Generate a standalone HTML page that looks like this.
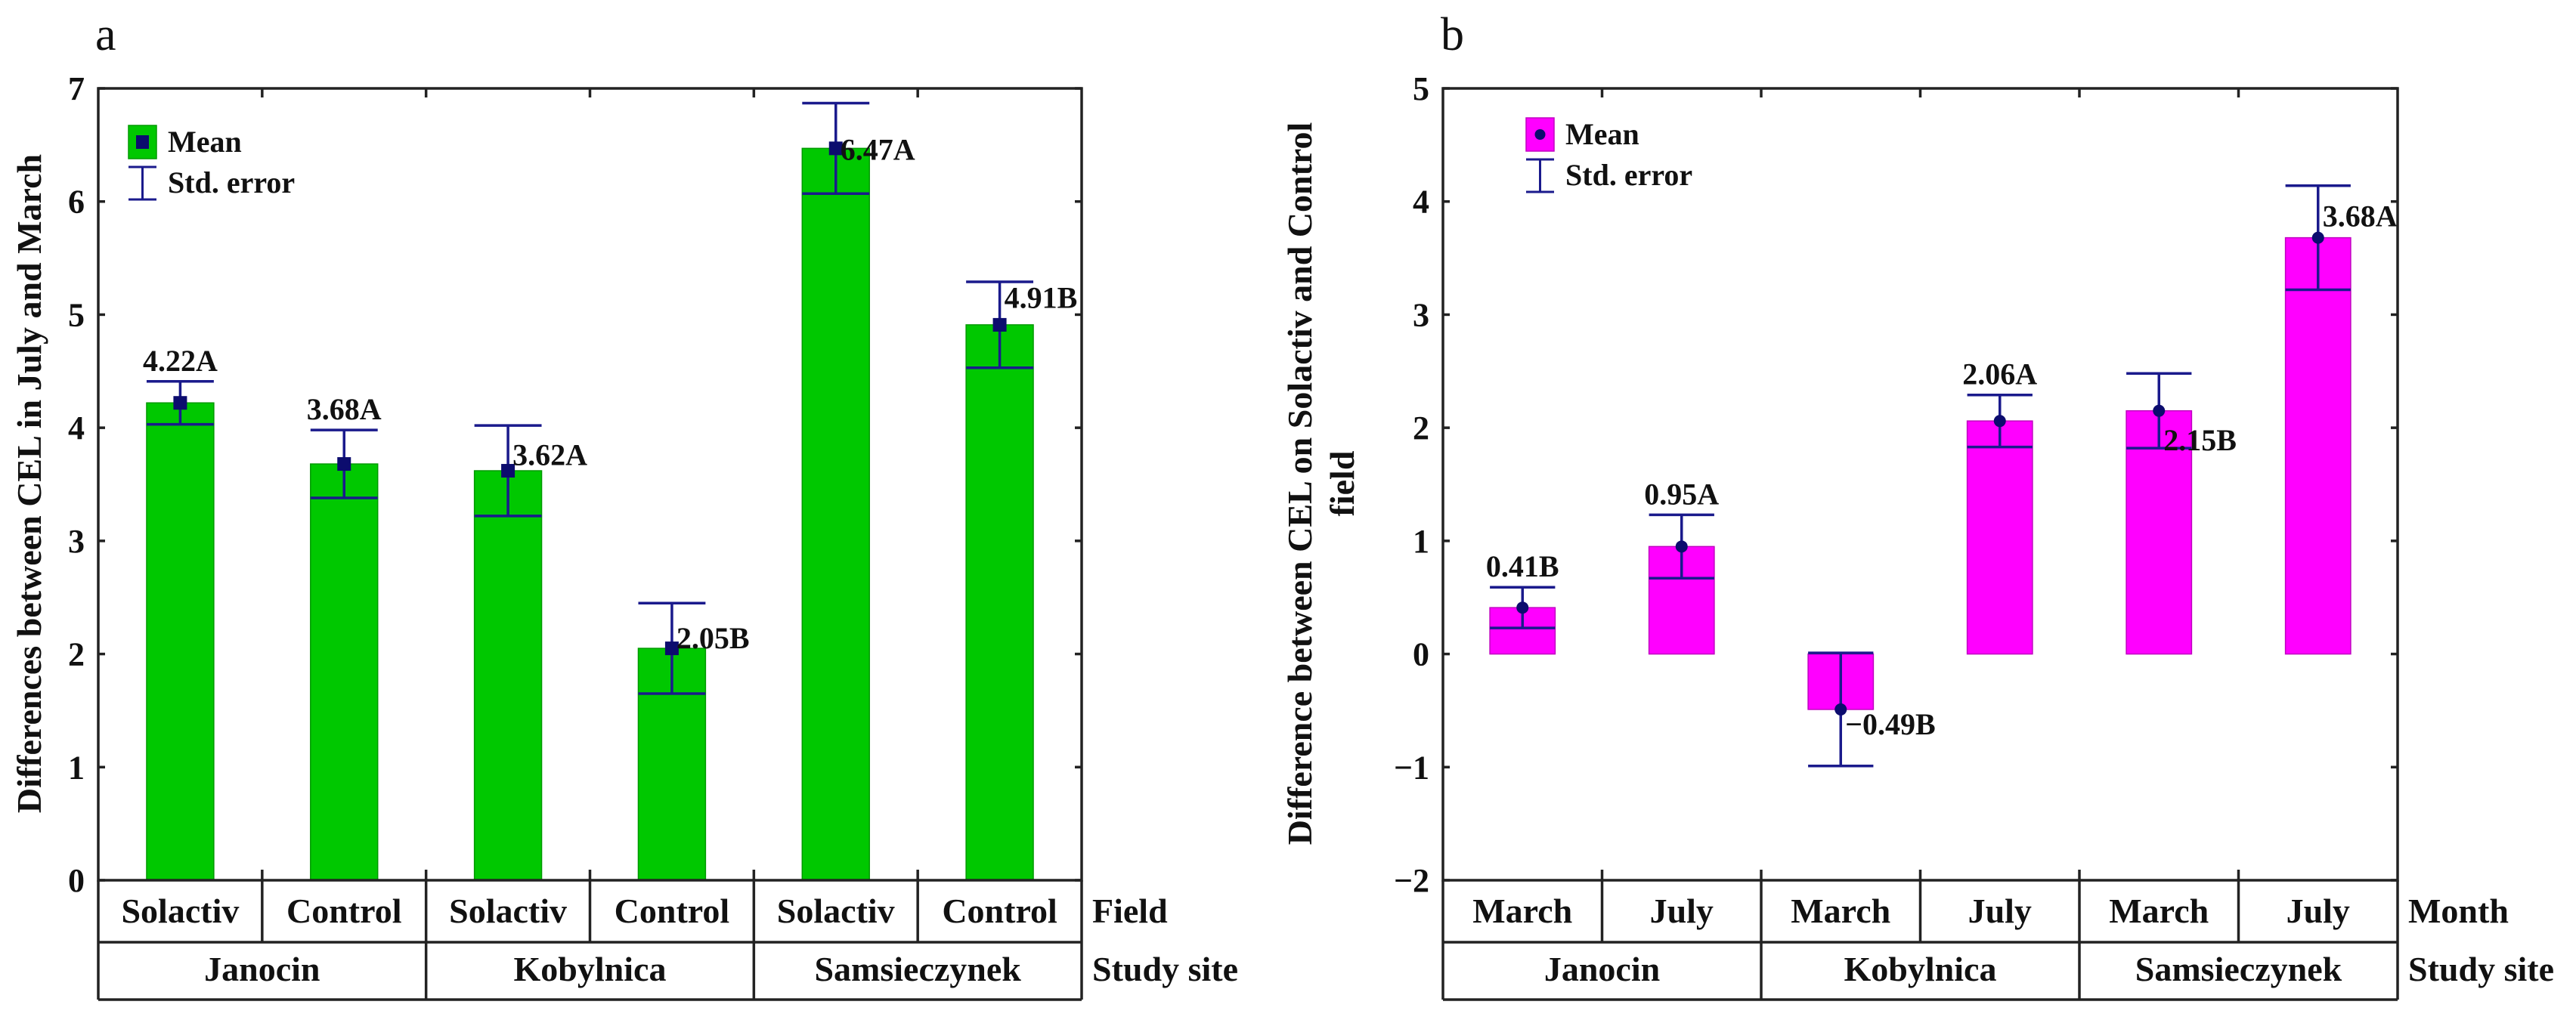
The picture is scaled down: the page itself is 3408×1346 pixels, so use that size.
<!DOCTYPE html>
<html><head><meta charset="utf-8"><style>
html,body{margin:0;padding:0;background:#fff;}
svg{display:block;font-family:"Liberation Serif",serif;}
</style></head><body>
<svg id="fig" width="3408" height="1346" viewBox="0 0 3408 1346" xmlns="http://www.w3.org/2000/svg"></svg>
<script>
// Chart a data
const catsA = ["Solactiv","Control","Solactiv","Control","Solactiv","Control"];
const sitesA = ["Janocin","Kobylnica","Samsieczynek"];
const meanA = [4.22,3.68,3.62,2.05,6.47,4.91];
const seA = [0.19,0.30,0.40,0.40,0.40,0.38];
const labelA = ["4.22A","3.68A","3.62A","2.05B","6.47A","4.91B"];
const ticksA = [0,1,2,3,4,5,6,7];
// Chart b data
const catsB = ["March","July","March","July","March","July"];
const sitesB = ["Janocin","Kobylnica","Samsieczynek"];
const meanB = [0.41,0.95,-0.49,2.06,2.15,3.68];
const seB = [0.18,0.28,0.50,0.23,0.33,0.46];
const labelB = ["0.41B","0.95A","\u22120.49B","2.06A","2.15B","3.68A"];
const ticksB = [-2,-1,0,1,2,3,4,5];
const tickLabB = ["\u22122","\u22121","0","1","2","3","4","5"];

const NS="http://www.w3.org/2000/svg";
const svg=document.getElementById('fig');
function el(tag,attrs,parent,text){const e=document.createElementNS(NS,tag);for(const k in attrs)e.setAttribute(k,attrs[k]);if(text!==undefined)e.textContent=text;(parent||svg).appendChild(e);return e;}

function chart(o){
  const g=el('g',{});
  
  
  const L=o.left,R=o.right,T=117,B=1165;
  const cw=(R-L)/o.cats.length;
  const y=v=>B-(v-o.ymin)/(o.ymax-o.ymin)*(B-T);
  const xc=i=>L+cw*(i+0.5);
  const bw=cw*0.41;
  o.mean.forEach((m,i)=>{
    const y0=y(0),y1=y(m);
    const r=el('rect',{x:xc(i)-bw/2,y:Math.min(y0,y1),width:bw,height:Math.abs(y1-y0),fill:o.color,stroke:o.stroke,'stroke-width':1.5},g);
    
    
  });
  o.mean.forEach((m,i)=>{
    const eg=el('g',{stroke:'#1a1a8c','stroke-width':3.5,fill:'none'},g);
    
    
    const hi=y(m+o.se[i]),lo=y(m-o.se[i]);
    el('line',{x1:xc(i),x2:xc(i),y1:hi,y2:lo},eg);
    el('line',{x1:xc(i)-bw/2,x2:xc(i)+bw/2,y1:hi,y2:hi},eg);
    el('line',{x1:xc(i)-bw/2,x2:xc(i)+bw/2,y1:lo,y2:lo},eg);
    let mk;
    if(o.circle) mk=el('circle',{cx:xc(i),cy:y(m),r:8,fill:'#0c0c6e'},g);
    else mk=el('rect',{x:xc(i)-9,y:y(m)-9,width:18,height:18,fill:'#0c0c6e'},g);
    
    
    const p=o.lpos[i];
    let lx,ly,anchor;
    if(p==='top'){lx=xc(i);ly=y(m+o.se[i])-14;anchor='middle';}
    else{lx=xc(i)+6;ly=y(m+p);anchor='start';}
    const t=el('text',{x:lx,y:ly,'text-anchor':anchor,'font-size':40,'font-weight':'bold',fill:'#111'},g,o.labels[i]);
    
    
  });
  const ax=el('g',{stroke:'#222','stroke-width':3.5,fill:'none'},g);
  
  
  el('rect',{x:L,y:T,width:R-L,height:B-T},ax);
  o.ticks.forEach((v,k)=>{
    el('line',{x1:L,x2:L+9,y1:y(v),y2:y(v)},ax);
    el('line',{x1:R,x2:R-9,y1:y(v),y2:y(v)},ax);
    const t=el('text',{x:L-18,y:y(v)+15,'text-anchor':'end','font-size':44,'font-weight':'bold',fill:'#111'},g,o.tickLab[k]);
    
    
  });
  for(let i=1;i<o.cats.length;i++){
    const x=L+cw*i;
    el('line',{x1:x,x2:x,y1:T,y2:T+12},ax);
    el('line',{x1:x,x2:x,y1:B,y2:B-14},ax);
  }
  const tb=el('g',{stroke:'#222','stroke-width':3.5,fill:'none'},g);
  
  
  const r1=1247,r2=1323;
  el('line',{x1:L,x2:L,y1:B,y2:r2},tb);
  el('line',{x1:R,x2:R,y1:B,y2:r2},tb);
  el('line',{x1:L,x2:R,y1:r1,y2:r1},tb);
  el('line',{x1:L,x2:R,y1:r2,y2:r2},tb);
  o.cats.forEach((c,i)=>{
    if(i>0) el('line',{x1:L+cw*i,x2:L+cw*i,y1:B,y2:(i%2===0)?r2:r1},tb);
    const t=el('text',{x:xc(i),y:1221,'text-anchor':'middle','font-size':46,'font-weight':'bold',fill:'#111'},g,c);
    
    
  });
  o.sites.forEach((s,i)=>{
    const t=el('text',{x:L+cw*(2*i+1),y:1298,'text-anchor':'middle','font-size':46,'font-weight':'bold',fill:'#111'},g,s);
    
    
  });
  let t=el('text',{x:R+14,y:1221,'font-size':46,'font-weight':'bold',fill:'#111'},g,o.rowName);
  
  
  t=el('text',{x:R+14,y:1298,'font-size':46,'font-weight':'bold',fill:'#111'},g,'Study site');
  
  
  o.ytitle.forEach((line,k)=>{
    const tx=o.ytx+k*56;
    const tt=el('text',{x:tx,y:640,'text-anchor':'middle','font-size':46,'font-weight':'bold',fill:'#111',transform:`rotate(-90 ${tx} 640)`},g,line);
    
    
  });
  t=el('text',{x:o.letterX,y:66,'font-size':62,fill:'#111'},g,o.letter);
  
  
  const lg=el('g',{},g);
  
  
  const lx=o.legX,ly=o.legY;
  el('rect',{x:lx,y:ly,width:37,height:44,fill:o.color,stroke:o.stroke,'stroke-width':1.5},lg);
  if(o.circle) el('circle',{cx:lx+18.5,cy:ly+22,r:7,fill:'#0c0c6e'},lg);
  else el('rect',{x:lx+10,y:ly+13,width:17,height:18,fill:'#0c0c6e'},lg);
  el('text',{x:lx+52,y:ly+35,'font-size':40,'font-weight':'bold',fill:'#111'},lg,'Mean');
  const eg=el('g',{stroke:'#1a1a8c','stroke-width':3},lg);
  el('line',{x1:lx,x2:lx+37,y1:ly+55,y2:ly+55},eg);
  el('line',{x1:lx,x2:lx+37,y1:ly+98,y2:ly+98},eg);
  el('line',{x1:lx+18.5,x2:lx+18.5,y1:ly+55,y2:ly+98},eg);
  el('text',{x:lx+52,y:ly+89,'font-size':40,'font-weight':'bold',fill:'#111'},lg,'Std. error');
}

chart({name:'chart-a',left:130,right:1431,ymin:0,ymax:7,cats:catsA,sites:sitesA,mean:meanA,se:seA,labels:labelA,
  ticks:ticksA,tickLab:ticksA.map(String),color:'#00c800',stroke:'#009a00',circle:false,
  lpos:['top','top',0.05,0.0,-0.1,0.15],rowName:'Field',ytitle:['Differences between CEL in July and March'],ytx:54,
  letter:'a',letterX:126,legX:170,legY:166});
chart({name:'chart-b',left:1909,right:3172,ymin:-2,ymax:5,cats:catsB,sites:sitesB,mean:meanB,se:seB,labels:labelB,
  ticks:ticksB,tickLab:tickLabB,color:'#ff00ff',stroke:'#c000c0',circle:true,
  lpos:['top','top',-0.22,'top',-0.35,0.1],rowName:'Month',ytitle:['Difference between CEL on Solactiv and Control','field'],ytx:1735,
  letter:'b',letterX:1906,legX:2019,legY:156});
</script>
</body></html>
